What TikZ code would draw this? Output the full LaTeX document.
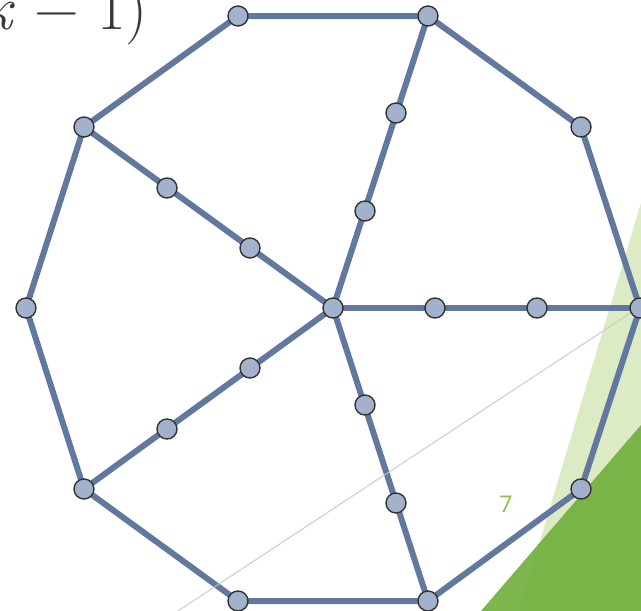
\documentclass[tikz,border=0pt]{standalone}
\usepackage{fontspec}
\setsansfont{Open Sans}
\begin{document}
\begin{tikzpicture}[x=1pt,y=-1pt,
  vtx/.style={circle,draw=black!80,line width=1.4pt,fill=nodefill,inner sep=0pt,minimum size=20pt},
  edge/.style={draw=edgeblue,line width=6pt}]
\definecolor{nodefill}{HTML}{A3B2CC}
\definecolor{edgeblue}{HTML}{62799F}
\definecolor{lightg}{HTML}{DCEBC4}
\definecolor{darkg}{HTML}{72B040}
\definecolor{labg}{HTML}{8DC03C}
\useasboundingbox (0,0) rectangle (641,611);
\clip (0,0) rectangle (641,611);
% coordinates
\coordinate (c) at (333,308);
\coordinate (v0) at (640,308);
\coordinate (v1) at (581,127);
\coordinate (v2) at (428,16);
\coordinate (v3) at (238,16);
\coordinate (v4) at (84,127);
\coordinate (v5) at (26,308);
\coordinate (v6) at (84,489);
\coordinate (v7) at (238,601);
\coordinate (v8) at (428,601);
\coordinate (v9) at (581,489);
\coordinate (a1) at (396,113);
\coordinate (a2) at (365,211);
\coordinate (b1) at (435,308);
\coordinate (b2) at (537,308);
\coordinate (d1) at (365,405);
\coordinate (d2) at (396,503);
\coordinate (e1) at (250,368);
\coordinate (e2) at (167,429);
\coordinate (f1) at (250,248);
\coordinate (f2) at (167,188);
% green shapes
\fill[lightg] (641,203) -- (641,611) -- (519,611) -- cycle;
\fill[darkg,opacity=0.93] (641,425) -- (641,611) -- (481,611) -- cycle;
% text
\node[anchor=base east,inner sep=0pt,text=black!78] (t) at (148,29)
  {\fontsize{62}{70}\selectfont(2\textit{k} − 1)};
% edges
\draw[edge,line join=round] (v0)--(v1)--(v2)--(v3)--(v4)--(v5)--(v6)--(v7)--(v8)--(v9)--cycle;
\draw[edge] (c)--(v2);
\draw[edge] (c)--(v0);
\draw[edge] (c)--(v8);
\draw[edge] (c)--(v6);
\draw[edge] (c)--(v4);
\coordinate (g1) at (641,306);
\coordinate (g2) at (178,611);
\draw[black!22,line width=1.2pt,opacity=0.8] (g1)--(g2);
% nodes
\foreach \n in {c,v0,v1,v2,v3,v4,v5,v6,v7,v8,v9,a1,a2,b1,b2,d1,d2,e1,e2,f1,f2}
  \node[vtx] (n\n) at (\n) {};
\node[text=labg,font=\sffamily\fontsize{23}{26}\selectfont] (lab7) at (506,504) {7};
\end{tikzpicture}
\end{document}
